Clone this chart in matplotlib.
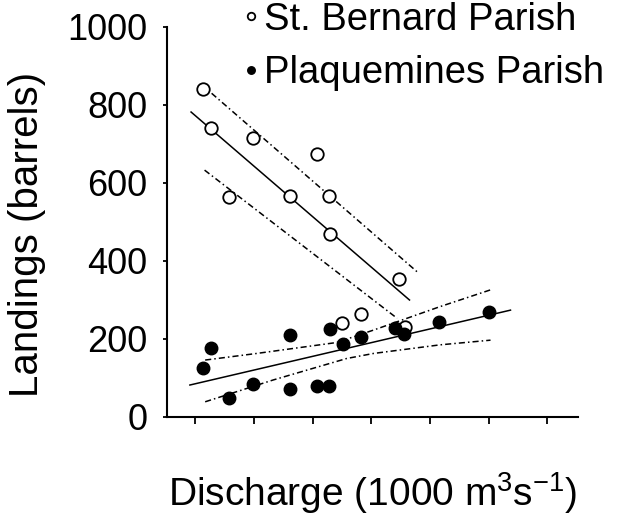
import matplotlib
matplotlib.use('Agg')
import matplotlib.pyplot as plt

plt.rcParams['font.family'] = ['Liberation Sans', 'DejaVu Sans']
plt.rcParams['mathtext.fontset'] = 'custom'
plt.rcParams['mathtext.rm'] = 'Liberation Sans'

# St. Bernard Parish (open circles)
sb_x = [1.13, 1.27, 1.58, 1.98, 2.61, 3.07, 3.28, 3.30, 3.50, 3.82, 4.47, 4.58]
sb_y = [840, 742, 563, 715, 567, 674, 567, 469, 240, 263, 354, 232]
sb_fit_x = [0.93, 4.65]
sb_fit_y = [782, 300]
sb_up_x = [1.28, 4.79]
sb_up_y = [830, 371]
sb_lo_x = [1.16, 4.44]
sb_lo_y = [633, 253]

# Plaquemines Parish (filled circles)
pq_x = [1.13, 1.27, 1.58, 1.98, 2.61, 2.62, 3.07, 3.28, 3.30, 3.51, 3.82, 4.41, 4.56, 5.15, 6.01]
pq_y = [126, 178, 50, 84, 72, 210, 79, 79, 225, 187, 206, 227, 213, 243, 270]
pq_fit_x = [0.91, 6.37]
pq_fit_y = [82, 274]
pq_up_x = [1.17, 2.05, 3.41, 4.04, 5.17, 6.03]
pq_up_y = [146, 163, 191, 223, 283, 326]
pq_lo_x = [1.17, 2.33, 3.58, 4.04, 5.17, 6.03]
pq_lo_y = [39, 95, 150, 163, 185, 197]

yticks = [0, 200, 400, 600, 800, 1000]
xticks = [1, 2, 3, 4, 5, 6, 7]

fig = plt.figure(figsize=(6.18, 5.23), dpi=100)
ax = fig.add_axes([167/618, 106/523, 411/618, 390/523])

dd = (0, (4, 2, 1, 2))
ax.plot(sb_fit_x, sb_fit_y, color='black', lw=1.1)
ax.plot(sb_up_x, sb_up_y, color='black', lw=1.1, linestyle=dd)
ax.plot(sb_lo_x, sb_lo_y, color='black', lw=1.1, linestyle=dd)
ax.plot(pq_fit_x, pq_fit_y, color='black', lw=1.1)
ax.plot(pq_up_x, pq_up_y, color='black', lw=1.1, linestyle=dd)
ax.plot(pq_lo_x, pq_lo_y, color='black', lw=1.1, linestyle=dd)

ax.plot(sb_x, sb_y, 'o', mfc='white', mec='black', mew=1.3, ms=9,
        label='St. Bernard Parish')
ax.plot(pq_x, pq_y, 'o', mfc='black', mec='black', ms=9,
        label='Plaquemines Parish')

ax.set_xlim(0.52, 7.52)
ax.set_ylim(0, 1000)
ax.set_yticks(yticks)
ax.set_xticks(xticks)
ax.set_xticklabels([])
ax.tick_params(axis='y', direction='out', length=3, width=1.3, labelsize=26, pad=11)
ax.tick_params(axis='x', direction='out', length=5, width=1.3)
for s in ['top', 'right']:
    ax.spines[s].set_visible(False)
for s in ['left', 'bottom']:
    ax.spines[s].set_linewidth(1.5)

ax.set_ylabel('Landings (barrels)', fontsize=29)
ax.yaxis.set_label_coords(-0.295, 0.467)
ax.set_xlabel(r'Discharge (1000 $\mathrm{m^3s^{-1}}$)', fontsize=28, labelpad=30)

ax.legend(loc='upper left', bbox_to_anchor=(220/618, 1.033), bbox_transform=fig.transFigure,
          frameon=False, fontsize=27.5, markerscale=0.6, handlelength=0.6,
          handletextpad=0.05, labelspacing=0.45, borderpad=0)

fig.savefig('out.png', dpi=100)
